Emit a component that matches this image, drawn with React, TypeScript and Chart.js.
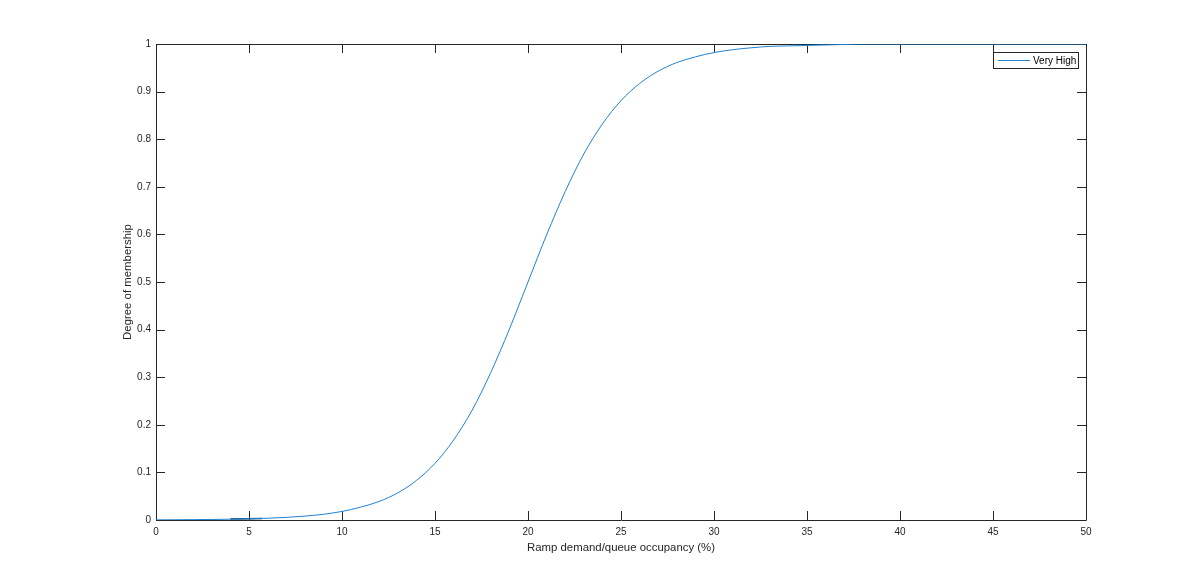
import React, { useEffect, useRef } from "react";
import { Chart, registerables } from "chart.js";

Chart.register(...registerables);

const seriesLabel = "Very High";
const xValues = [
  0, 1, 2, 3, 4, 5, 6, 7, 8, 9, 10, 11, 12, 13, 14, 15, 16, 17, 18, 19, 20,
  21, 22, 23, 24, 25, 26, 27, 28, 29, 30, 31, 32, 33, 34, 35, 36, 37, 38, 40,
  42, 44, 46, 48, 50,
];
const yValues = [
  0.0003, 0.0005, 0.0008, 0.0011, 0.0017, 0.0025, 0.0037, 0.0055, 0.0082,
  0.012, 0.018, 0.027, 0.039, 0.057, 0.083, 0.119, 0.168, 0.231, 0.31, 0.401,
  0.5, 0.599, 0.69, 0.769, 0.832, 0.881, 0.917, 0.943, 0.961, 0.973, 0.982,
  0.988, 0.992, 0.995, 0.996, 0.997, 0.998, 0.999, 1, 1, 1, 1, 1, 1, 1,
];
// darker overlapping strokes visible near the ends of the curve
const darkSegX = [4, 5.7, null, 34.3, 36];
const darkSegY = [0.002, 0.003, null, 1, 1];

const xTicks = [0, 5, 10, 15, 20, 25, 30, 35, 40, 45, 50];
const yTicks = [0, 0.1, 0.2, 0.3, 0.4, 0.5, 0.6, 0.7, 0.8, 0.9, 1];

const AXIS = "#262626";
const FONT = "'Liberation Sans', Arial, Helvetica, sans-serif";
const FS = 10;
const LFS = 11.4;

const boxPlugin = {
  id: "matlabBox",
  beforeDatasetsDraw(chart: any) {
    const { ctx, chartArea: a, scales } = chart;
    ctx.save();
    ctx.strokeStyle = AXIS;
    ctx.lineWidth = 1;
    ctx.beginPath();
    ctx.rect(Math.round(a.left) + 0.5, Math.round(a.top) + 0.5, Math.round(a.right - a.left), Math.round(a.bottom - a.top));
    ctx.stroke();
    const tl = 9;
    ctx.beginPath();
    for (const v of xTicks) {
      const px = Math.round(scales.x.getPixelForValue(v)) + 0.5;
      ctx.moveTo(px, a.bottom);
      ctx.lineTo(px, a.bottom - tl);
      ctx.moveTo(px, a.top);
      ctx.lineTo(px, a.top + tl);
    }
    for (const v of yTicks) {
      const py = Math.round(scales.y.getPixelForValue(v)) + 0.5;
      ctx.moveTo(a.left, py);
      ctx.lineTo(a.left + tl, py);
      ctx.moveTo(a.right, py);
      ctx.lineTo(a.right - tl, py);
    }
    ctx.stroke();
    ctx.restore();
  },
  afterDatasetsDraw(chart: any) {
    const { ctx, chartArea: a } = chart;
    const ds = chart.data.datasets[0];
    const bx = Math.round(a.right) - 93;
    const by = Math.round(a.top) + 8;
    const bw = 85;
    const bh = 16;
    ctx.save();
    ctx.fillStyle = "#ffffff";
    ctx.fillRect(bx, by, bw, bh);
    ctx.strokeStyle = AXIS;
    ctx.lineWidth = 1;
    ctx.strokeRect(bx + 0.5, by + 0.5, bw, bh);
    ctx.strokeStyle = ds.borderColor;
    ctx.beginPath();
    ctx.moveTo(bx + 5, by + 8.5);
    ctx.lineTo(bx + 37, by + 8.5);
    ctx.stroke();
    ctx.fillStyle = "#000000";
    ctx.font = `${FS}px ${FONT}`;
    ctx.textBaseline = "middle";
    ctx.textAlign = "left";
    ctx.fillText(ds.label, bx + 40, by + 9);
    ctx.restore();
  },
};

export default function App() {
  const ref = useRef<HTMLCanvasElement>(null);
  useEffect(() => {
    if (!ref.current) return;
    const chart = new Chart(ref.current, {
      type: "line",
      data: {
        datasets: [
          {
            label: seriesLabel,
            data: xValues.map((x, i) => ({ x, y: yValues[i] })),
            borderColor: "#1f82d0",
            borderWidth: 1,
            pointRadius: 0,
            tension: 0.4,
            cubicInterpolationMode: "monotone",
            fill: false,
          },
          {
            label: "_seg",
            data: darkSegX.map((x, i) => ({ x, y: darkSegY[i] })) as any,
            borderColor: "#0d3a63",
            borderWidth: 1.5,
            pointRadius: 0,
            spanGaps: false,
            fill: false,
          },
        ],
      },
      options: {
        responsive: false,
        animation: false,
        devicePixelRatio: 1,
        layout: { padding: { left: 117, top: 44, right: 114, bottom: 25 } },
        plugins: { legend: { display: false }, tooltip: { enabled: false } },
        scales: {
          x: {
            type: "linear",
            min: 0,
            max: 50,
            border: { display: false },
            grid: { display: false, drawTicks: false },
            afterBuildTicks: (s: any) => {
              s.ticks = xTicks.map((v) => ({ value: v }));
            },
            afterFit: (s: any) => {
              s.height = 39;
            },
            ticks: {
              padding: 6,
              color: AXIS,
              font: { family: FONT, size: FS },
              maxRotation: 0,
              autoSkip: false,
            },
            title: {
              display: true,
              text: "Ramp demand/queue occupancy (%)",
              color: AXIS,
              font: { family: FONT, size: LFS },
              padding: { top: 4, bottom: 4 },
            },
          },
          y: {
            type: "linear",
            min: 0,
            max: 1,
            border: { display: false },
            grid: { display: false, drawTicks: false },
            afterBuildTicks: (s: any) => {
              s.ticks = yTicks.map((v) => ({ value: v }));
            },
            afterFit: (s: any) => {
              s.width = 39;
            },
            ticks: {
              padding: 5,
              color: AXIS,
              font: { family: FONT, size: FS },
              autoSkip: false,
              callback: (v: any) => String(Number(v)),
            },
            title: {
              display: true,
              text: "Degree of membership",
              color: AXIS,
              font: { family: FONT, size: LFS },
              padding: { top: 4, bottom: 4 },
            },
          },
        },
      },
      plugins: [boxPlugin],
    });
    return () => chart.destroy();
  }, []);
  return (
    <div style={{ position: "absolute", left: 0, top: 0, width: 1200, height: 584, background: "#ffffff" }}>
      <canvas ref={ref} width={1200} height={584} style={{ display: "block" }} />
    </div>
  );
}
